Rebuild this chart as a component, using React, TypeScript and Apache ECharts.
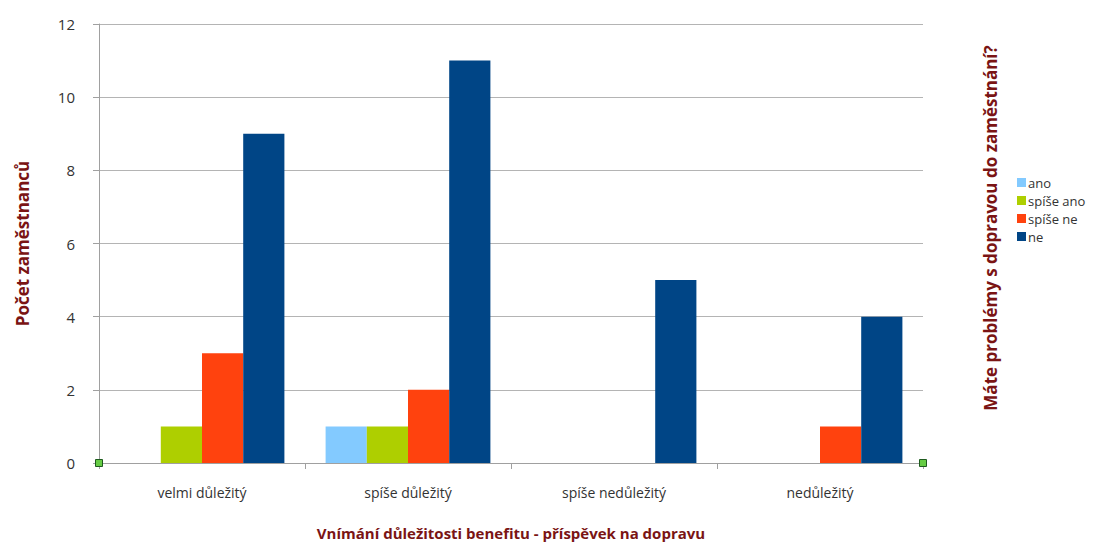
import React, { useEffect, useRef } from "react";
import * as echarts from "echarts";

const categories = ["velmi důležitý", "spíše důležitý", "spíše nedůležitý", "nedůležitý"];
const seriesNames = ["ano", "spíše ano", "spíše ne", "ne"];
const ano = [0, 1, 0, 0];
const spiseAno = [1, 1, 0, 0];
const spiseNe = [3, 2, 0, 1];
const ne = [9, 11, 5, 4];
const colors = ["#83caff", "#aecf00", "#ff420e", "#004586"];
const yTicks = [0, 2, 4, 6, 8, 10, 12];

const FONT = "'Open Sans', 'DejaVu Sans', sans-serif";
const TITLE_COLOR = "#7a1414";

export default function App() {
  const ref = useRef<HTMLDivElement>(null);
  useEffect(() => {
    if (!ref.current) return;
    const chart = echarts.init(ref.current, undefined, { renderer: "svg" });
    const values = [ano, spiseAno, spiseNe, ne];
    const rightTitle = {
      type: "text",
      x: 990,
      y: 228,
      rotation: Math.PI / 2,
      style: {
        text: "Máte problémy s dopravou do zaměstnání?",
        fill: TITLE_COLOR,
        font: `bold 17px ${FONT}`,
        textAlign: "center",
        textVerticalAlign: "middle",
      },
    };
    const option: any = {
      animation: false,
      backgroundColor: "#ffffff",
      textStyle: { fontFamily: FONT },
      grid: { left: 99, right: 192, top: 24, bottom: 82 },
      legend: {
        orient: "vertical",
        left: 1012,
        top: 171,
        itemWidth: 9,
        itemHeight: 9,
        itemGap: 5,
        icon: "rect",
        textStyle: { fontSize: 13, color: "#333", fontFamily: FONT, padding: [0, 0, 0, -3] },
        data: seriesNames,
      },
      xAxis: {
        type: "category",
        data: categories,
        name: "Vnímání důležitosti benefitu - příspěvek na dopravu",
        nameLocation: "middle",
        nameGap: 62,
        nameTextStyle: { color: TITLE_COLOR, fontSize: 15, fontWeight: "bold", fontFamily: FONT },
        axisLine: { lineStyle: { color: "#a0a0a0" } },
        axisTick: { show: true, length: 6, lineStyle: { color: "#a0a0a0" } },
        axisLabel: { color: "#333", fontSize: 14, margin: 22, fontFamily: FONT },
      },
      yAxis: {
        type: "value",
        min: 0,
        max: 12,
        interval: 2,
        name: "Počet zaměstnanců",
        nameLocation: "middle",
        nameGap: 68,
        nameTextStyle: { color: TITLE_COLOR, fontSize: 17, fontWeight: "bold", fontFamily: FONT },
        axisLine: { show: true, lineStyle: { color: "#a0a0a0" } },
        axisTick: { show: true, length: 6, lineStyle: { color: "#a0a0a0" } },
        axisLabel: {
          color: "#333",
          fontSize: 15,
          margin: 24,
          fontFamily: FONT,
          formatter: (v: number) => (yTicks.includes(v) ? String(v) : ""),
        },
        splitLine: { lineStyle: { color: "#b4b4b4" } },
      },
      series: seriesNames.map((n, i) => ({
        name: n,
        type: "bar",
        data: values[i],
        barGap: "0%",
        barCategoryGap: "20%",
        itemStyle: { color: colors[i] },
      })),
      graphic: [rightTitle],
    };
    chart.setOption(option);
    const p0 = chart.convertToPixel({ gridIndex: 0 }, [0, 0]);
    const left = 99;
    const right = 1115 - 192;
    const y0 = p0 ? p0[1] : 463;
    chart.setOption({
      graphic: [
        rightTitle,
        ...[left, right].map((x) => ({
          type: "rect",
          shape: { x: x - 3.5, y: y0 - 3.5, width: 7, height: 7 },
          style: { fill: "#66cc44", stroke: "#1e5a1e", lineWidth: 1 },
          z: 100,
        })),
      ],
    });
    return () => chart.dispose();
  }, []);
  return <div ref={ref} style={{ width: 1115, height: 545, position: "absolute", left: 0, top: 0 }} />;
}
